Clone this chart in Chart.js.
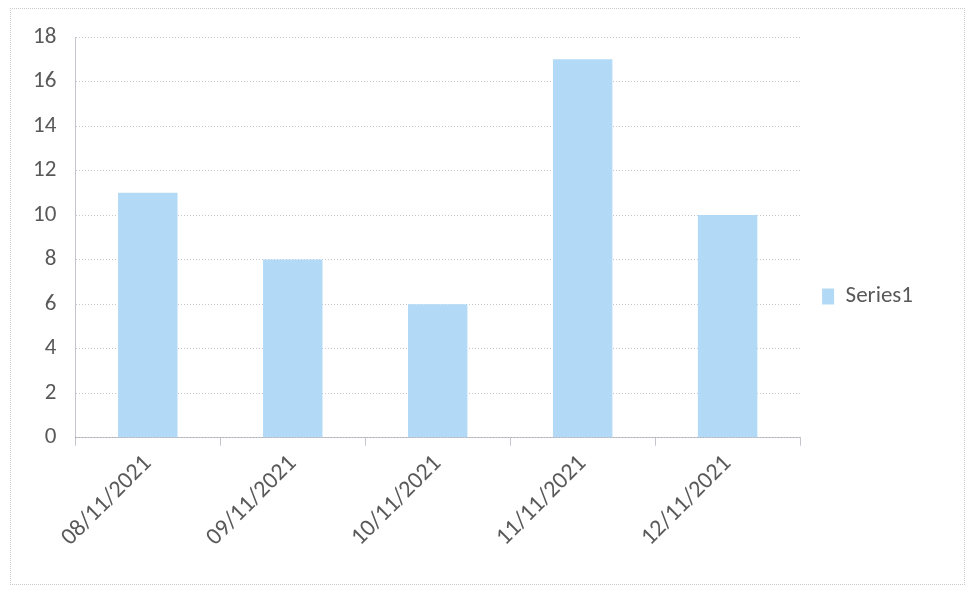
<!DOCTYPE html>
<html>
<head>
<meta charset="utf-8">
<title>Series1</title>
<script src="https://cdn.jsdelivr.net/npm/chart.js@4.4.0/dist/chart.umd.min.js"></script>
<style>
  body { margin: 0; background: #fff; }
  #wrap { position: relative; width: 968px; height: 598px; }
  #frame {
    position: absolute; left: 10px; top: 8px; width: 955px; height: 577px;
    border: 1px dotted #c9c9cf; box-sizing: border-box; pointer-events: none;
  }
</style>
</head>
<body>
<div id="wrap">
  <canvas id="myChart" width="968" height="598"></canvas>
  <div id="frame"></div>
</div>
<script>
'use strict';

// values
let dates = ['08/11/2021', '09/11/2021', '10/11/2021', '11/11/2021', '12/11/2021'];
let series1 = [11, 8, 6, 17, 10];
let yTicks = [0, 2, 4, 6, 8, 10, 12, 14, 16, 18];

let barBlue = 'rgb(178, 218, 247)';
let gridGray = 'rgba(150, 150, 165, 0.55)';
let textGray = '#595959';
let fontName = 'Carlito, Lato, sans-serif';

const ctx = document.getElementById('myChart');

new Chart(ctx, {
  type: 'bar',
  data: {
    labels: dates,
    datasets: [
      {
        label: 'Series1',
        data: series1,
        backgroundColor: barBlue,
        borderWidth: 0,
        barPercentage: 0.41,
        categoryPercentage: 1
      }
    ]
  },
  options: {
    responsive: false,
    animation: false,
    layout: {
      padding: { left: 14, right: 45, top: 37, bottom: 42 }
    },
    plugins: {
      tooltip: { enabled: false },
      legend: {
        position: 'right',
        labels: {
          color: textGray,
          font: { family: fontName, size: 23 },
          boxWidth: 12,
          boxHeight: 16,
          padding: 22
        }
      }
    },
    scales: {
      x: {
        grid: {
          drawOnChartArea: false,
          drawTicks: true,
          tickLength: 8,
          color: gridGray
        },
        border: { display: true, color: gridGray, dash: [1, 2] },
        ticks: {
          color: textGray,
          font: { family: fontName, size: 24 },
          minRotation: 45,
          maxRotation: 45,
          padding: 4
        }
      },
      y: {
        min: 0,
        max: 18,
        afterBuildTicks: function (axis) {
          axis.ticks = yTicks.map(function (v) { return { value: v }; });
        },
        grid: {
          color: gridGray,
          drawTicks: false,
          lineWidth: 1
        },
        border: { display: true, color: gridGray, dash: [1, 2] },
        ticks: {
          color: textGray,
          font: { family: fontName, size: 23 },
          padding: 19
        }
      }
    }
  }
});
</script>
</body>
</html>
